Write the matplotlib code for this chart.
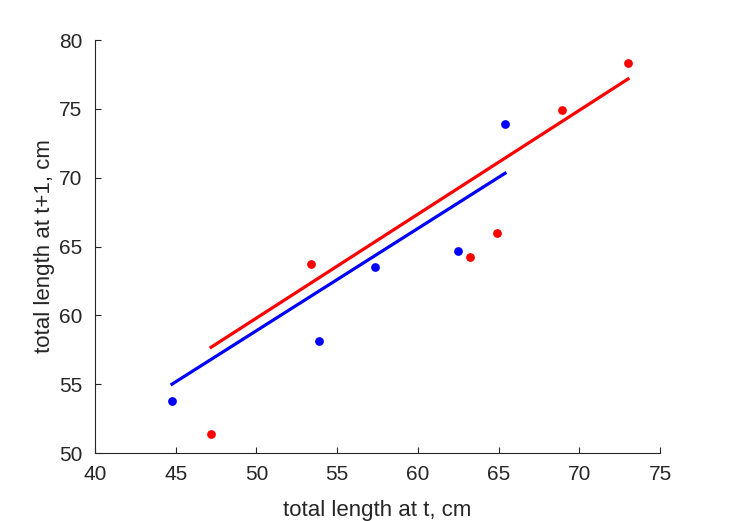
import matplotlib
matplotlib.use("Agg")
import matplotlib.pyplot as plt

plt.rcParams['font.family'] = ['Liberation Sans', 'DejaVu Sans']

blue_x = [44.77, 53.88, 57.35, 62.49, 65.40]
blue_y = [53.78, 58.15, 63.52, 64.68, 73.90]
red_x = [47.19, 53.38, 63.23, 64.91, 68.93, 73.02]
red_y = [51.38, 63.74, 64.25, 65.99, 74.92, 78.33]

blue_line_x = [44.77, 65.40]
blue_line_y = [55.0, 70.32]
red_line_x = [47.19, 73.02]
red_line_y = [57.68, 77.17]

xticks = [40, 45, 50, 55, 60, 65, 70, 75]
yticks = [50, 55, 60, 65, 70, 75, 80]

fig = plt.figure(figsize=(7.29, 5.21), dpi=100)
ax = fig.add_axes([95/729, 68/521, 565/729, 413/521])

ax.plot(blue_x, blue_y, 'o', color=(0, 0, 1), markersize=6.3, markeredgewidth=0)
ax.plot(red_x, red_y, 'o', color=(1, 0, 0), markersize=6.3, markeredgewidth=0)
ax.plot(blue_line_x, blue_line_y, '-', color=(0, 0, 1), linewidth=2.3)
ax.plot(red_line_x, red_line_y, '-', color=(1, 0, 0), linewidth=2.3)

ax.set_xlim(40, 75)
ax.set_ylim(50, 80)
ax.set_xticks(xticks)
ax.set_yticks(yticks)

axc = '#262626'
for s in ['top', 'right']:
    ax.spines[s].set_visible(False)
for s in ['left', 'bottom']:
    ax.spines[s].set_color(axc)
    ax.spines[s].set_linewidth(0.8)
ax.tick_params(direction='in', length=4, width=0.8, color=axc, labelcolor=axc, labelsize=15)
ax.tick_params(axis='y', pad=9)
ax.tick_params(axis='x', pad=9)
ax.set_xlabel('total length at t, cm', fontsize=16, color=axc, labelpad=11)
ax.set_ylabel('total length at t+1, cm', fontsize=16, color=axc, labelpad=3)

fig.savefig('out.png', dpi=100)
